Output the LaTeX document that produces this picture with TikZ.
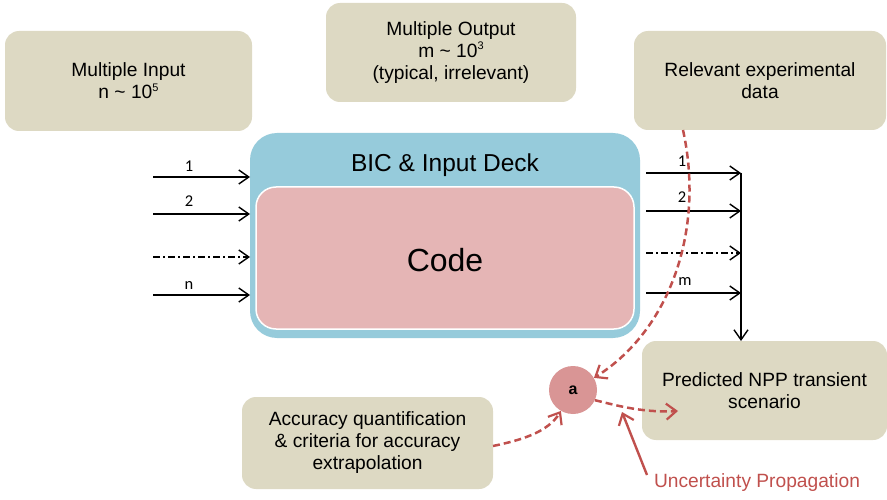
\documentclass[tikz,border=0pt]{standalone}
\usepackage{fontspec}
\setmainfont{Liberation Sans}
\newfontfamily\labelfont{Carlito}
\usetikzlibrary{arrows.meta,calc}
\definecolor{boxtan}{HTML}{DDD9C3}
\definecolor{deckblue}{HTML}{96CBDB}
\definecolor{codepink}{HTML}{E5B5B5}
\definecolor{circpink}{HTML}{D99595}
\definecolor{uqred}{HTML}{C0504D}
\newcommand{\smallsup}[1]{\raisebox{0.75ex}{\fontsize{11}{12}\selectfont #1}}
\tikzset{
  infobox/.style={rounded corners=14pt, fill=boxtan, draw=none, inner sep=0pt,
    align=center, font=\fontsize{19.2}{22}\selectfont},
  barb/.style={-{Straight Barb[length=10pt,width=14pt,line width=1.4pt]}},
  flow/.style={black, line width=1.5pt, barb},
  dashdot/.style={dash pattern=on 7pt off 3pt on 2pt off 3pt},
  uqdash/.style={uqred, line width=2.5pt, dash pattern=on 7pt off 4pt,
    -{Straight Barb[length=10pt,width=16pt,line width=2.2pt]}},
  numlabel/.style={font=\labelfont\fontsize{16.5}{18}\selectfont, inner sep=0pt},
}
\begin{document}
\begin{tikzpicture}[x=1pt,y=-1pt]
\useasboundingbox (0,0) rectangle (887,500);

% information boxes
\node[infobox, minimum width=247pt, minimum height=100pt] (inbox) at (128.5,81)
  {Multiple Input\\n \textasciitilde{} 10\smallsup{5}};
\node[infobox, minimum width=250pt, minimum height=99pt] (outbox) at (451,52.5)
  {Multiple Output\\m \textasciitilde{} 10\smallsup{3}\\(typical, irrelevant)};
\node[infobox, minimum width=252pt, minimum height=99pt] (expdata) at (760,80.5)
  {Relevant experimental\\data};
\node[infobox, minimum width=245pt, minimum height=99pt] (npp) at (764.5,390.5)
  {Predicted NPP transient\\scenario};
\node[infobox, minimum width=251pt, minimum height=92pt] (accuracy) at (367.5,443)
  {Accuracy quantification\\\& criteria for accuracy\\extrapolation};

% code block
\node[fill=deckblue, rounded corners=27pt, minimum width=390pt, minimum height=205pt,
  inner sep=0pt] (deck) at (445,235.5) {};
\node[fill=codepink, draw=white, line width=1.5pt, rounded corners=20pt,
  minimum width=378pt, minimum height=142pt, inner sep=0pt] (code) at (445,258) {};
\node[font=\fontsize{24.5}{28}\selectfont, inner sep=0pt] (decklabel) at (445,165) {BIC \& Input Deck};
\node[font=\fontsize{32}{36}\selectfont, inner sep=0pt] (codelabel) at (445,260) {Code};

% inputs
\foreach \y/\nm in {177/i1, 214/i2, 257/i3, 295/i4} {
  \coordinate (\nm s) at (153,\y);
  \coordinate (\nm e) at (250,\y);
}
\draw[flow] (i1s) -- (i1e);
\draw[flow] (i2s) -- (i2e);
\draw[flow, dashdot] (i3s) -- (i3e);
\draw[flow] (i4s) -- (i4e);
\node[numlabel] (inl1) at (189,166) {1};
\node[numlabel] (inl2) at (189,201) {2};
\node[numlabel] (inln) at (189,285) {n};

% outputs
\foreach \y/\nm in {173/o1, 211/o2, 253/o3, 293/o4} {
  \coordinate (\nm s) at (646,\y);
  \coordinate (\nm e) at (741,\y);
}
\coordinate (collect) at (741,341);
\draw[flow] (o1s) -- (o1e);
\draw[flow] (o2s) -- (o2e);
\draw[flow, dashdot] (o3s) -- (o3e);
\draw[flow] (o4s) -- (o4e);
\draw[flow] (o1e) -- (collect);
\node[numlabel] (outl1) at (682,161) {1};
\node[numlabel] (outl2) at (682,197) {2};
\node[numlabel] (outlm) at (685,281) {m};

% uncertainty propagation
\node[circle, fill=circpink, minimum size=48pt, inner sep=0pt,
  font=\bfseries\fontsize{16}{18}\selectfont] (a) at (573,390) {a};
\coordinate (expfoot) at (683,130);
\draw[uqdash] (expfoot) .. controls (705,230) and (670,330) .. (a.30);
\coordinate (accright) at (493,446);
\draw[uqdash] (accright) .. controls (522,440) and (548,432) .. (a.240);
\coordinate (npptip) at (678,411);
\draw[uqdash] (a.-25) .. controls (612,404) and (640,413) .. (npptip);

\node[text=uqred, font=\fontsize{19.2}{22}\selectfont, inner sep=0pt] (uqlabel) at (757,483)
  {Uncertainty Propagation};
\coordinate (uqtip) at (622,412);
\draw[uqred, line width=2.4pt, -{Straight Barb[length=10pt,width=16pt,line width=2.2pt]}]
  (647,475) -- (uqtip);
\end{tikzpicture}
\end{document}
